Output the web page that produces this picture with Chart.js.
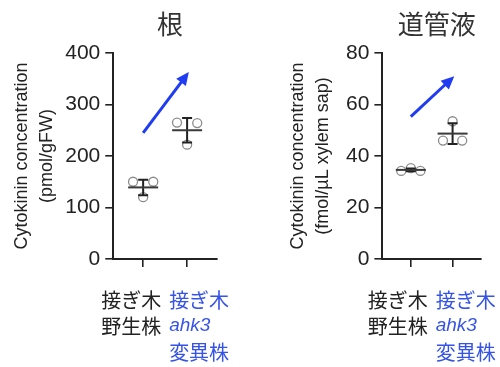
<!DOCTYPE html>
<html>
<head>
<meta charset="utf-8">
<script src="https://cdn.jsdelivr.net/npm/chart.js@4.4.1/dist/chart.umd.min.js"></script>
<style>
  html, body { margin: 0; padding: 0; background: #fff; }
  #wrap { display: flex; width: 500px; height: 367px; }
  .panel { position: relative; width: 250px; height: 367px; }
</style>
</head>
<body>
<div id="wrap">
  <div class="panel"><canvas id="rootChart"></canvas></div>
  <div class="panel"><canvas id="sapChart"></canvas></div>
</div>
<script>
// groups along the x axis (0 = grafted wild type, 1 = grafted ahk3 mutant)
const groupLines = [['接ぎ木', '野生株'], ['接ぎ木', 'ahk3', '変異株']];
const italicWords = ['ahk3'];

// root, pmol/gFW
const rootWT = [150, 150, 120];
const rootMutant = [265, 264, 222];
const rootMean = [139, 250];
const rootSD = [15, 24];
const rootArrow = [245, 363];
const rootTicks = [0, 100, 200, 300, 400];

// xylem sap, fmol/µL
const sapWT = [34.2, 35.3, 34.2];
const sapMutant = [46, 53.5, 46];
const sapMean = [34.6, 48.7];
const sapSD = [0.5, 4];
const sapArrow = [55.3, 71];
const sapTicks = [0, 20, 40, 60, 80];

// horizontal spread of the dots inside a group
const jitterSides = [-0.23, 0.23, 0];
const jitterRow = [-0.23, 0, 0.23];

const LATIN = '"Liberation Sans", Arial, "Noto Sans CJK JP", sans-serif';
const CJK = '"Noto Sans CJK JP", "Liberation Sans", sans-serif';
const INK = '#222';
const BLUE_TEXT = '#3553e6';
const ARROW = '#1f3cf2';

function dots(values, group, jitter) {
  return values.map((v, i) => ({ x: group + jitter[i], y: v }));
}

function makeChart(id, o) {
  const overlay = {
    id: 'overlay',
    afterDraw(chart) {
      const c = chart.ctx;
      const xs = chart.scales.x;
      const ys = chart.scales.y;
      const area = chart.chartArea;
      c.save();

      // mean line and SD bars
      o.mean.forEach((m, i) => {
        const px = xs.getPixelForValue(i);
        const top = ys.getPixelForValue(m + o.sd[i]);
        const bot = ys.getPixelForValue(m - o.sd[i]);
        const py = ys.getPixelForValue(m);
        c.strokeStyle = INK;
        c.lineWidth = 2;
        c.beginPath();
        c.moveTo(px, top); c.lineTo(px, bot);
        c.moveTo(px - 5, top); c.lineTo(px + 5, top);
        c.moveTo(px - 5, bot); c.lineTo(px + 5, bot);
        c.stroke();
        c.strokeStyle = '#3a3a3a';
        c.beginPath();
        c.moveTo(px - 15, py); c.lineTo(px + 15, py);
        c.stroke();
      });

      // blue trend arrow
      const x0 = xs.getPixelForValue(0), y0 = ys.getPixelForValue(o.arrow[0]);
      const x1 = xs.getPixelForValue(1.04), y1 = ys.getPixelForValue(o.arrow[1]);
      const ang = Math.atan2(y1 - y0, x1 - x0);
      const head = 13;
      c.strokeStyle = ARROW;
      c.fillStyle = ARROW;
      c.lineWidth = 3;
      c.beginPath();
      c.moveTo(x0, y0);
      c.lineTo(x1 - head * 0.8 * Math.cos(ang), y1 - head * 0.8 * Math.sin(ang));
      c.stroke();
      c.beginPath();
      c.moveTo(x1, y1);
      c.lineTo(x1 - head * Math.cos(ang) + 6 * Math.sin(ang), y1 - head * Math.sin(ang) - 6 * Math.cos(ang));
      c.lineTo(x1 - head * Math.cos(ang) - 6 * Math.sin(ang), y1 - head * Math.sin(ang) + 6 * Math.cos(ang));
      c.closePath();
      c.fill();

      // panel title
      c.fillStyle = '#333';
      c.font = '26px ' + CJK;
      c.textAlign = 'center';
      c.textBaseline = 'middle';
      c.fillText(o.title, (area.left + area.right) / 2 + 5, 24);

      // group labels under the axis
      const mid = (xs.getPixelForValue(0) + xs.getPixelForValue(1)) / 2;
      groupLines.forEach((lines, g) => {
        c.textAlign = g === 0 ? 'right' : 'left';
        c.fillStyle = g === 0 ? INK : BLUE_TEXT;
        const lx = g === 0 ? mid - 4 : mid + 4;
        lines.forEach((t, k) => {
          c.font = italicWords.includes(t) ? 'italic 19px ' + LATIN : '20px ' + CJK;
          c.fillText(t, lx, area.bottom + 41 + 26 * k);
        });
      });
      c.restore();
    }
  };

  return new Chart(document.getElementById(id), {
    type: 'scatter',
    data: {
      datasets: [
        { data: dots(o.wt, 0, o.jitterWT) },
        { data: dots(o.mutant, 1, o.jitterMutant) },
      ],
    },
    options: {
      responsive: true,
      maintainAspectRatio: false,
      animation: false,
      layout: { padding: { left: o.padLeft, right: o.padRight, top: 53, bottom: 100 } },
      elements: {
        point: {
          radius: 4.5,
          borderWidth: 1.3,
          borderColor: '#8c8c8c',
          backgroundColor: 'rgba(255,255,255,0.7)',
        },
      },
      plugins: {
        legend: { display: false },
        tooltip: { enabled: false },
      },
      scales: {
        x: {
          type: 'linear',
          min: -0.68,
          max: 1.68,
          afterBuildTicks: (s) => { s.ticks = [{ value: 0 }, { value: 1 }]; },
          ticks: { display: false },
          grid: { drawOnChartArea: false, drawTicks: true, tickLength: 8, color: INK, lineWidth: 1.6 },
          border: { display: true, color: INK, width: 2 },
        },
        y: {
          min: 0,
          max: o.ticks[o.ticks.length - 1],
          afterBuildTicks: (s) => { s.ticks = o.ticks.map((v) => ({ value: v })); },
          ticks: { color: INK, font: { size: 21, family: LATIN }, padding: 5 },
          grid: { drawOnChartArea: false, tickLength: 8, color: INK, lineWidth: 1.6 },
          border: { display: true, color: INK, width: 2 },
          title: {
            display: true,
            text: o.yTitle,
            color: INK,
            font: { size: 18, family: LATIN, lineHeight: 1.39 },
            padding: { top: 0, bottom: 5 },
          },
        },
      },
    },
    plugins: [overlay],
  });
}

makeChart('rootChart', {
  title: '根',
  wt: rootWT, mutant: rootMutant,
  jitterWT: jitterSides, jitterMutant: jitterSides,
  mean: rootMean, sd: rootSD, arrow: rootArrow, ticks: rootTicks,
  yTitle: ['Cytokinin concentration', '(pmol/gFW)'],
  padLeft: 9.5, padRight: 33,
});

makeChart('sapChart', {
  title: '道管液',
  wt: sapWT, mutant: sapMutant,
  jitterWT: jitterRow, jitterMutant: jitterRow,
  mean: sapMean, sd: sapSD, arrow: sapArrow, ticks: sapTicks,
  yTitle: ['Cytokinin concentration', '(fmol/µL xylem sap)'],
  padLeft: 36, padRight: 19,
});
</script>
</body>
</html>
